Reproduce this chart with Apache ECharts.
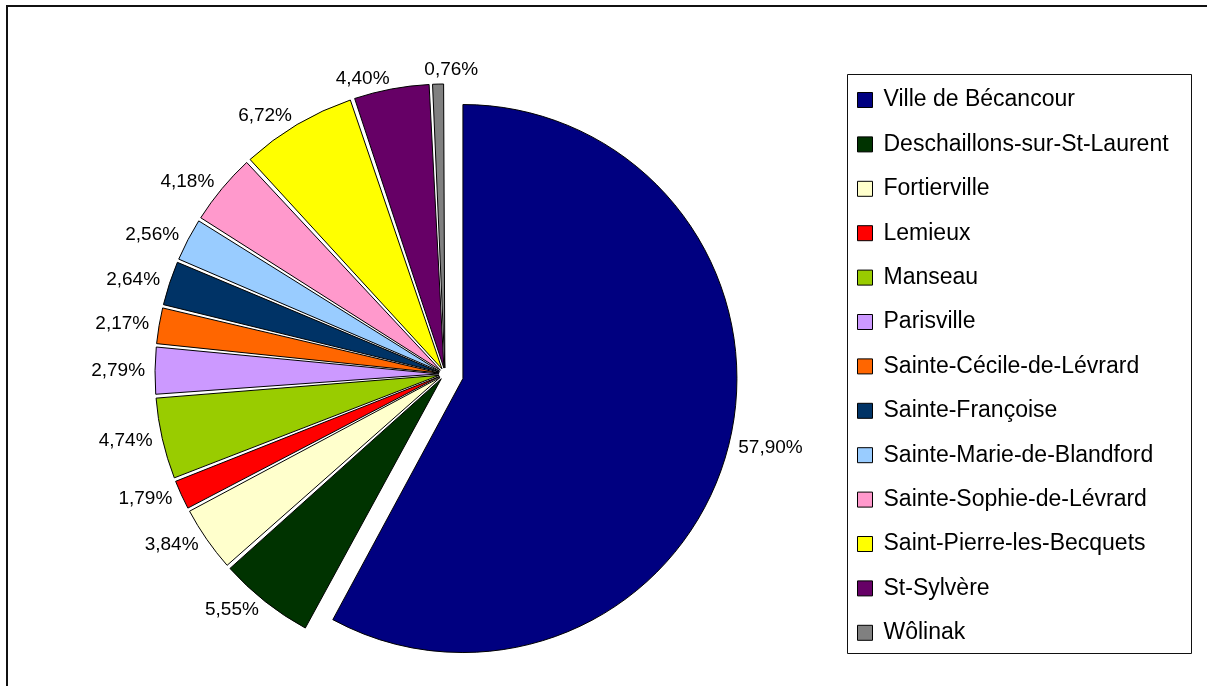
<!DOCTYPE html>
<html>
<head>
<meta charset="utf-8">
<script src="https://cdn.jsdelivr.net/npm/echarts@6/dist/echarts.min.js"></script>
<style>
  html, body { margin: 0; padding: 0; background: #fff; }
  #chart { width: 1207px; height: 686px; }
</style>
</head>
<body>
<div id="chart"></div>
<script>
const names = [
  'Ville de Bécancour', 'Deschaillons-sur-St-Laurent', 'Fortierville', 'Lemieux',
  'Manseau', 'Parisville', 'Sainte-Cécile-de-Lévrard', 'Sainte-Françoise',
  'Sainte-Marie-de-Blandford', 'Sainte-Sophie-de-Lévrard', 'Saint-Pierre-les-Becquets',
  'St-Sylvère', 'Wôlinak'
];
const shares = [57.90, 5.55, 3.84, 1.79, 4.74, 2.79, 2.17, 2.64, 2.56, 4.18, 6.72, 4.40, 0.76];
const colors = [
  '#000080', '#003300', '#ffffcc', '#ff0000', '#99cc00', '#cc99ff', '#ff6600',
  '#003366', '#99ccff', '#ff99cc', '#ffff00', '#660066', '#808080'
];

const font = 'Liberation Sans, Arial, sans-serif';
const baseCenter = [445, 374];
const mainRadius = 274;
const sliceRadius = 284;
const mainExplode = 18.5;
const sliceExplode = 6;
const labelGap = 10;

const fmt = (v) => v.toFixed(2).replace('.', ',') + '%';

// direction of each slice's bisector (start at 12 o'clock, clockwise)
const total = shares.reduce((a, b) => a + b, 0);
const midDirs = [];
let acc = 0;
shares.forEach((v) => {
  const a = (acc + v / 2) / total * 2 * Math.PI;
  midDirs.push([Math.sin(a), -Math.cos(a)]);
  acc += v;
});

// labels right at the top sit a little right of the bisector and higher
function placeLabel(params) {
  const u = midDirs[params.dataIndex];
  if (Math.abs(u[0]) > 0.1) return {};
  const r = params.labelRect;
  const anchorX = u[0] < 0 ? r.x + r.width : r.x;
  return {
    x: anchorX + r.width / 4,
    y: r.y + r.height / 4,
    align: 'center',
    verticalAlign: 'middle'
  };
}

// one series per slice, each shifted out along its own bisector (exploded pie)
function sliceSeries(k) {
  const off = k === 0 ? mainExplode : sliceExplode;
  return {
    type: 'pie',
    center: [baseCenter[0] + off * midDirs[k][0], baseCenter[1] + off * midDirs[k][1]],
    radius: k === 0 ? mainRadius : sliceRadius,
    startAngle: 90,
    clockwise: true,
    padAngle: k === 0 ? 0 : 0.5,
    animation: false,
    silent: true,
    avoidLabelOverlap: false,
    label: {
      position: 'outside',
      formatter: (p) => fmt(p.value),
      color: '#000',
      fontFamily: font,
      fontSize: 19,
      distanceToLabelLine: 0
    },
    labelLine: { show: false, length: labelGap, length2: 0 },
    labelLayout: placeLabel,
    emphasis: { disabled: true },
    data: names.map((n, i) => ({
      name: n,
      value: shares[i],
      itemStyle: i === k
        ? { color: colors[i], borderColor: '#000', borderWidth: 1 }
        : { color: 'rgba(0,0,0,0)', borderWidth: 0 },
      label: { show: i === k }
    }))
  };
}

const chart = echarts.init(document.getElementById('chart'));
chart.setOption({
  backgroundColor: '#fff',
  animation: false,
  graphic: [
    {
      type: 'rect',
      shape: { x: 7, y: 6, width: 1220, height: 700 },
      style: { fill: 'none', stroke: '#111', lineWidth: 2 },
      silent: true
    },
    {
      type: 'rect',
      shape: { x: 847.5, y: 74.5, width: 344, height: 579 },
      style: { fill: '#fff', stroke: '#111', lineWidth: 1 },
      silent: true,
      z: -1
    }
  ],
  legend: {
    orient: 'vertical',
    left: 857,
    top: 87,
    padding: 0,
    icon: 'rect',
    itemWidth: 15,
    itemHeight: 15,
    itemGap: 18.4,
    selectedMode: false,
    data: names.map((n, i) => ({
      name: n,
      itemStyle: { color: colors[i], borderColor: '#000', borderWidth: 1 }
    })),
    textStyle: {
      fontFamily: font,
      fontSize: 23,
      color: '#000',
      lineHeight: 26,
      padding: [0, 0, 0, 6]
    }
  },
  series: names.map((n, k) => sliceSeries(k))
});
</script>
</body>
</html>
